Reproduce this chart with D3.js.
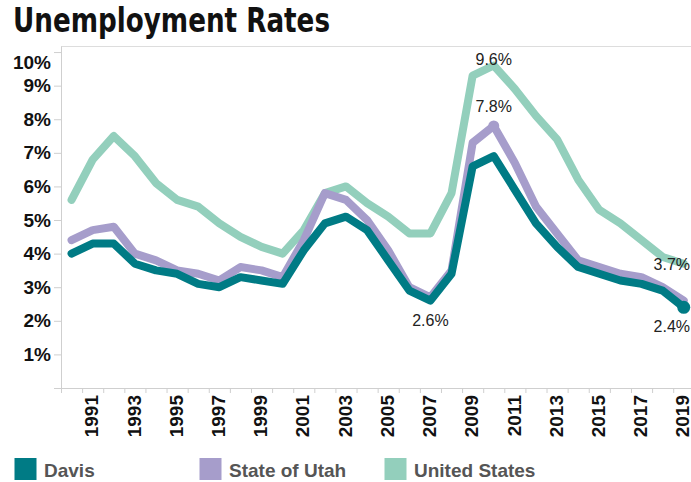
<!DOCTYPE html>
<html>
<head>
<meta charset="utf-8">
<script src="https://cdn.jsdelivr.net/npm/d3@7"></script>
<style>
  body { margin: 0; background: #fff; }
  svg { display: block; font-family: "Liberation Sans", Arial, sans-serif; }
  .title { font-family: "DejaVu Sans Condensed", "DejaVu Sans", sans-serif; font-weight: bold; font-size: 33px; fill: #111; }
  .axis text { font-size: 19px; font-weight: bold; fill: #111; font-family: "Liberation Sans", Arial, sans-serif; }
  .axis .domain, .axis line { stroke: #cfcfcf; }
  .legend text { font-size: 19px; font-weight: bold; fill: #555; }
  .annotation { font-size: 16px; fill: #222; }
</style>
</head>
<body>
<div id="chart"></div>
<script>
const years = [1990, 1991, 1992, 1993, 1994, 1995, 1996, 1997, 1998, 1999,
  2000, 2001, 2002, 2003, 2004, 2005, 2006, 2007, 2008, 2009,
  2010, 2011, 2012, 2013, 2014, 2015, 2016, 2017, 2018, 2019];
const davis = [4.0, 4.3, 4.3, 3.7, 3.5, 3.4, 3.1, 3.0, 3.3, 3.2,
  3.1, 4.1, 4.9, 5.1, 4.7, 3.8, 2.9, 2.6, 3.4, 6.6,
  6.9, 5.9, 4.9, 4.2, 3.6, 3.4, 3.2, 3.1, 2.9, 2.4];
const utah = [4.4, 4.7, 4.8, 4.0, 3.8, 3.5, 3.4, 3.2, 3.6, 3.5,
  3.3, 4.4, 5.8, 5.6, 5.0, 4.1, 3.0, 2.7, 3.5, 7.3,
  7.8, 6.7, 5.4, 4.6, 3.8, 3.6, 3.4, 3.3, 3.0, 2.6];
const unitedStates = [5.6, 6.8, 7.5, 6.9, 6.1, 5.6, 5.4, 4.9, 4.5, 4.2,
  4.0, 4.7, 5.8, 6.0, 5.5, 5.1, 4.6, 4.6, 5.8, 9.3,
  9.6, 8.9, 8.1, 7.4, 6.2, 5.3, 4.9, 4.4, 3.9, 3.7];
const seriesNames = ["Davis", "State of Utah", "United States"];
const yTicks = [0, 1, 2, 3, 4, 5, 6, 7, 8, 9, 10];
const xLabelYears = [1991, 1993, 1995, 1997, 1999, 2001, 2003, 2005, 2007,
  2009, 2011, 2013, 2015, 2017, 2019];
const annotations = [
  { series: "United States", year: 2010, place: "above" },
  { series: "State of Utah", year: 2010, place: "above", dot: true },
  { series: "Davis", year: 2007, place: "below" },
  { series: "United States", year: 2019, place: "middle" },
  { series: "Davis", year: 2019, place: "below", dot: true },
];

const valuesBySeries = {
  "Davis": davis,
  "State of Utah": utah,
  "United States": unitedStates,
};
const series = seriesNames.map((name) => ({
  name,
  values: years.map((year, i) => ({ year, value: valuesBySeries[name][i] })),
}));

const width = 691;
const height = 482;
const margin = { top: 46, left: 61, bottom: 388 };
const band = 21.11;

const color = d3.scaleOrdinal()
  .domain(seriesNames)
  .range(["#007b85", "#a69dcb", "#93cfbc"]);

const x = d3.scaleBand()
  .domain(years)
  .range([margin.left, margin.left + years.length * band])
  .padding(0);
const xEdge = d3.scaleLinear()
  .domain([years[0], years[years.length - 1] + 1])
  .range(x.range());
const y = d3.scaleLinear()
  .domain([0, 10.18])
  .range([margin.bottom, margin.top]);

const svg = d3.select("#chart")
  .append("svg")
  .attr("width", width)
  .attr("height", height);

svg.append("text")
  .attr("class", "title")
  .attr("x", 13)
  .attr("y", 32)
  .attr("textLength", 317)
  .attr("lengthAdjust", "spacingAndGlyphs")
  .text("Unemployment Rates");

// top frame line
svg.append("line")
  .attr("x1", margin.left)
  .attr("x2", width)
  .attr("y1", margin.top + 0.5)
  .attr("y2", margin.top + 0.5)
  .attr("stroke", "#dddddd");

// y axis
svg.append("g")
  .attr("class", "axis")
  .attr("transform", `translate(${margin.left},0)`)
  .call(d3.axisLeft(y)
    .tickValues(yTicks)
    .tickSize(7)
    .tickSizeOuter(0)
    .tickPadding(3)
    .tickFormat((d) => (d ? d + "%" : "")))
  .attr("font-size", null)
  .attr("font-family", null)
  .call((g) => g.selectAll(".tick text")
    .filter((d) => d === yTicks[yTicks.length - 1])
    .attr("dy", "0.84em"));

// x axis: ticks on year boundaries
svg.append("g")
  .attr("class", "axis")
  .attr("transform", `translate(0,${margin.bottom})`)
  .call(d3.axisBottom(xEdge)
    .tickValues(d3.range(years[0], years[years.length - 1] + 2))
    .tickFormat("")
    .tickSize(5)
    .tickSizeOuter(0));

// x axis labels at band centres
svg.append("g")
  .attr("class", "axis")
  .attr("transform", `translate(0,${margin.bottom})`)
  .call(d3.axisBottom(x).tickValues(xLabelYears).tickSize(0))
  .attr("font-size", null)
  .attr("font-family", null)
  .call((g) => g.select(".domain").remove())
  .call((g) => g.selectAll(".tick text")
    .attr("transform", "rotate(-90)")
    .attr("text-anchor", "end")
    .attr("x", -7)
    .attr("y", 0)
    .attr("dy", "0.3em"));

const line = d3.line()
  .x((d) => x(d.year) + x.bandwidth() / 2)
  .y((d) => y(d.value));

svg.append("g")
  .selectAll("path")
  .data(series.slice().reverse())
  .join("path")
  .attr("fill", "none")
  .attr("stroke", (d) => color(d.name))
  .attr("stroke-width", 8)
  .attr("stroke-linejoin", "round")
  .attr("stroke-linecap", "round")
  .attr("d", (d) => line(d.values));

// annotations
const ann = svg.append("g");
annotations.forEach((a) => {
  const s = series.find((d) => d.name === a.series);
  const v = s.values.find((d) => d.year === a.year).value;
  const cx = x(a.year) + x.bandwidth() / 2;
  const cy = y(v);
  if (a.dot) {
    ann.append("circle")
      .attr("cx", cx)
      .attr("cy", cy)
      .attr("r", a.year === years[years.length - 1] ? 6.5 : 5.5)
      .attr("fill", color(a.series));
  }
  let by;
  if (a.place === "above") by = Math.max(cy - 14, margin.top + 19);
  else if (a.place === "below") by = cy + 25;
  else by = cy + 6;
  const t = ann.append("text")
    .attr("class", "annotation")
    .attr("y", by)
    .attr("text-anchor", "middle")
    .text(d3.format(".1f")(v) + "%");
  const w = t.node().getComputedTextLength();
  t.attr("x", Math.min(cx, width - 1 - w / 2));
});

// legend
const legend = svg.append("g")
  .attr("class", "legend")
  .selectAll("g")
  .data(seriesNames)
  .join("g")
  .attr("transform", (d, i) => `translate(${14.5 + i * 185},458)`);
legend.append("rect")
  .attr("width", 22)
  .attr("height", 22)
  .attr("fill", (d) => color(d));
legend.append("text")
  .attr("x", 29.5)
  .attr("y", 19)
  .text((d) => d);
</script>
</body>
</html>
